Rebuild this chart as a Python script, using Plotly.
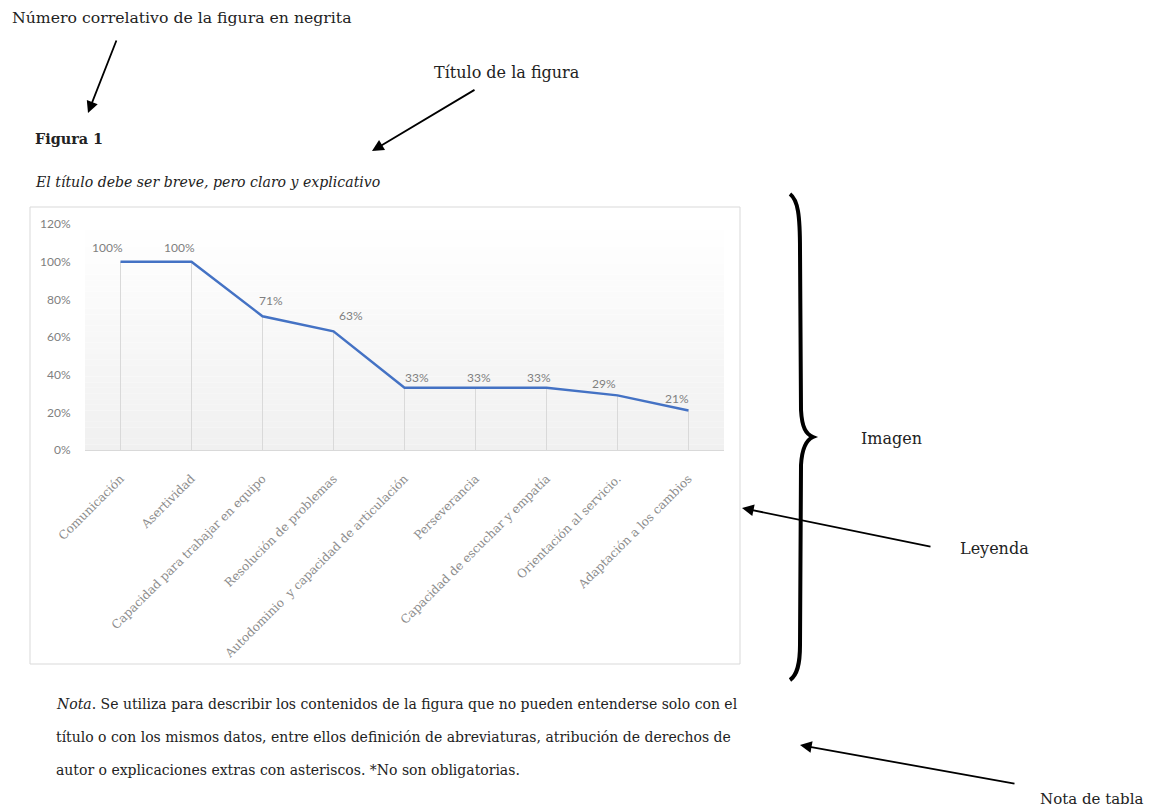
import plotly.graph_objects as go

PAGE_OFFSET = 8           # browser body margin
W, H = 1159 - PAGE_OFFSET, 809 - PAGE_OFFSET

# ---------------- data ----------------
categories = [
    "Comunicación",
    "Asertividad",
    "Capacidad para trabajar en equipo",
    "Resolución de problemas",
    "Autodominio  y capacidad de articulación",
    "Perseverancia",
    "Capacidad de escuchar y empatía",
    "Orientación al servicio.",
    "Adaptación a los cambios",
]
values = [1.00, 1.00, 0.71, 0.63, 0.33, 0.33, 0.33, 0.29, 0.21]
y_ticks = [0, 0.2, 0.4, 0.6, 0.8, 1.0, 1.2]

# style: small nudges for data labels (pixels)
label_dx = [-13, -12, 8, 17, 12, 3, -8, -14, -12]
label_dy = [14, 14, 16, 16, 10, 10, 10, 12, 12]


def px(x):
    return (x - PAGE_OFFSET) / W


def py(y):
    return 1 - (y - PAGE_OFFSET) / H


idx = list(range(len(categories)))

fig = go.Figure()

# drop lines from each point to the axis
drop_x, drop_y = [], []
for i, v in zip(idx, values):
    drop_x += [i, i, None]
    drop_y += [0, v, None]
fig.add_trace(go.Scatter(x=drop_x, y=drop_y, mode="lines",
                         line=dict(color="#d9d9d9", width=1),
                         hoverinfo="skip", showlegend=False))

fig.add_trace(go.Scatter(x=idx, y=values, mode="lines",
                         line=dict(color="#4472C4", width=2.5),
                         showlegend=False))

shapes = []
# gradient background of plot area
n = 40
ymax = y_ticks[-1]
for k in range(n):
    y0 = ymax * k / n
    y1 = ymax * (k + 1) / n
    c = int(round(240 + 15 * ((k + 0.5) / n)))
    shapes.append(dict(type="rect", xref="x domain", yref="y",
                       x0=0, x1=1, y0=y0, y1=y1, layer="below",
                       line=dict(width=0), fillcolor=f"rgb({c},{c},{c})"))

# chart box border
shapes.append(dict(type="rect", xref="paper", yref="paper",
                   x0=px(30), x1=px(740), y0=py(664), y1=py(207),
                   line=dict(color="#d9d9d9", width=1), layer="below"))

# curly brace
pts = [("M", [(790, 194)]),
       ("C", [(798, 200), (800, 215), (800, 250)]),
       ("L", [(801, 410)]),
       ("C", [(802, 428), (806, 434), (813, 437)]),
       ("C", [(806, 440), (802, 448), (801, 465)]),
       ("L", [(800, 645)]),
       ("C", [(800, 665), (797, 675), (790, 680)])]
path = ""
for cmd, plist in pts:
    path += cmd + " " + " ".join(f"{px(a):.5f},{py(b):.5f}" for a, b in plist) + " "
shapes.append(dict(type="path", xref="paper", yref="paper", path=path.strip(),
                   line=dict(color="black", width=4)))

annotations = []

# data labels
for i, v, dx, dy in zip(idx, values, label_dx, label_dy):
    annotations.append(dict(x=i, y=v, xref="x", yref="y", text=f"{v:.0%}",
                            showarrow=False, xshift=dx, yshift=dy,
                            font=dict(family="Lato", size=12, color="#7f7f7f")))

serif = "DejaVu Serif"


def txt(x, y, text, size=16, family=serif, color="#222", anchor="left"):
    annotations.append(dict(x=px(x), y=py(y), xref="paper", yref="paper",
                            text=text, showarrow=False, xanchor=anchor,
                            yanchor="middle",
                            font=dict(family=family, size=size, color=color)))


txt(10, 17, "Número correlativo de la figura en negrita", 15.7)
txt(432, 73, "Título de la figura", 16)
txt(33, 139, "<b>Figura 1</b>", 14.4)
txt(33, 182, "<i>El título debe ser breve, pero claro y explicativo</i>", 14.1)
txt(859, 438, "Imagen", 16)
txt(958, 548, "Leyenda", 16)
txt(1038, 799, "Nota de tabla", 15)

txt(54, 704, "<i>Nota</i>. Se utiliza para describir los contenidos de la figura que no pueden entenderse solo con el", 14)
txt(54, 737, "título o con los mismos datos, entre ellos definición de abreviaturas, atribución de derechos de", 14)
txt(54, 770, "autor o explicaciones extras con asteriscos. *No son obligatorias.", 14)


def arrow(tip, tail, width=1.8):
    annotations.append(dict(x=px(tip[0]), y=py(tip[1]), xref="paper", yref="paper",
                            ax=tail[0] - tip[0], ay=tail[1] - tip[1],
                            axref="pixel", ayref="pixel",
                            text="", showarrow=True, arrowhead=2,
                            arrowsize=1.3, arrowwidth=width,
                            arrowcolor="black", standoff=0, startstandoff=0))


arrow((88, 113), (117, 39))
arrow((372, 151), (476, 89))
arrow((742, 508), (932, 547))
arrow((800, 745), (1016, 784))

fig.update_layout(
    width=W, height=H,
    margin=dict(l=0, r=0, t=0, b=0, pad=0, autoexpand=False),
    paper_bgcolor="white", plot_bgcolor="white",
    shapes=shapes, annotations=annotations,
    xaxis=dict(range=[-0.5, len(categories) - 0.5],
               domain=[px(85), px(724)], automargin=False,
               tickmode="array", tickvals=idx, ticktext=categories,
               tickangle=-45, showgrid=False, zeroline=False,
               showline=True, linecolor="#d9d9d9", linewidth=1,
               ticks="outside", ticklen=16, tickcolor="rgba(0,0,0,0)",
               tickfont=dict(family=serif, size=12, color="#8c8c8c")),
    yaxis=dict(range=[0, ymax], domain=[py(450), py(224)], automargin=False,
               tickmode="array", tickvals=y_ticks, tickformat=".0%",
               showgrid=False, zeroline=False, showline=False,
               ticks="outside", ticklen=11, tickcolor="rgba(0,0,0,0)",
               tickfont=dict(family="Lato", size=12, color="#7f7f7f")),
    showlegend=False,
)

fig.write_html("out.html", config={"displayModeBar": False})
